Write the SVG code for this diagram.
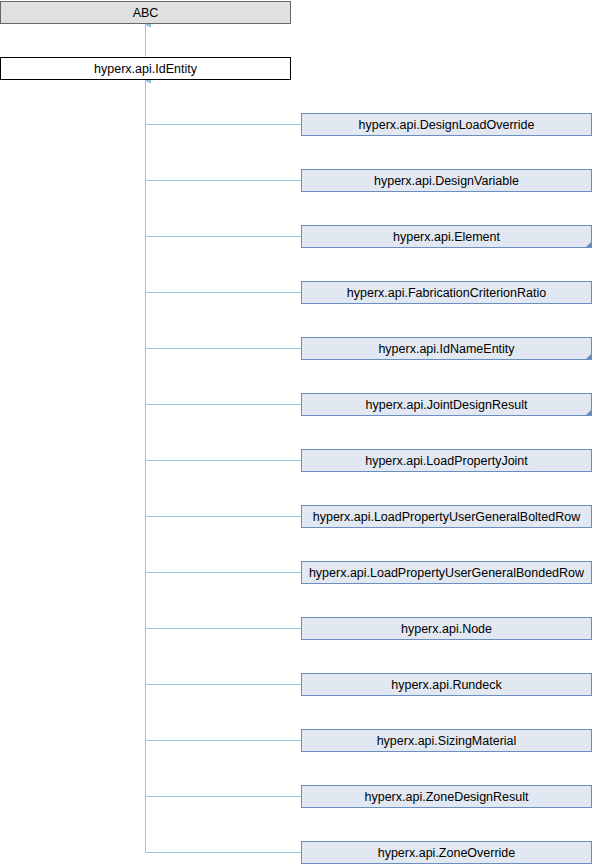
<svg xmlns="http://www.w3.org/2000/svg" width="592" height="864" viewBox="0 0 592 864">
<defs>
<style>
text{font-family:"Liberation Sans",Arial,sans-serif;font-size:12.5px;fill:#000;text-anchor:middle;}
.c{fill:#E2E8F2;stroke:#6C8EBF;stroke-width:1;}
.e{stroke:#8FC6E4;stroke-width:1;fill:none;}
.t{fill:#6C8EBF;}
</style>
<marker id="ah" markerWidth="6" markerHeight="6" refX="3" refY="0.5" orient="auto" markerUnits="userSpaceOnUse" viewBox="0 0 6 6">
<path d="M0.5,5.5 L3,0.5 L5.5,5.5 Z" fill="#8FC6E4" stroke="#8FC6E4" stroke-width="1"/>
</marker>
</defs>
<g id="edges">
<path class="e" d="M145.5,56.5 V24.5" marker-end="url(#ah)"/>
<path class="e" d="M145.5,852.5 V80.5" marker-end="url(#ah)"/>
<path class="e" d="M145.5,124.5 H301"/>
<path class="e" d="M145.5,180.5 H301"/>
<path class="e" d="M145.5,236.5 H301"/>
<path class="e" d="M145.5,292.5 H301"/>
<path class="e" d="M145.5,348.5 H301"/>
<path class="e" d="M145.5,404.5 H301"/>
<path class="e" d="M145.5,460.5 H301"/>
<path class="e" d="M145.5,516.5 H301"/>
<path class="e" d="M145.5,572.5 H301"/>
<path class="e" d="M145.5,628.5 H301"/>
<path class="e" d="M145.5,684.5 H301"/>
<path class="e" d="M145.5,740.5 H301"/>
<path class="e" d="M145.5,796.5 H301"/>
<path class="e" d="M145.5,852.5 H301"/>
</g>
<g id="ABC"><rect x="0.5" y="1.5" width="290" height="22" fill="#E0E0E0" stroke="#666"/><text x="145.5" y="16.5">ABC</text></g>
<g id="IdEntity"><rect x="0.5" y="57.5" width="290" height="22" fill="#fff" stroke="#000"/><text x="145.5" y="72.5">hyperx.api.IdEntity</text></g>
<g id="DesignLoadOverride"><rect class="c" x="301.5" y="113.5" width="290" height="22"/><text x="446.5" y="128.5">hyperx.api.DesignLoadOverride</text></g>
<g id="DesignVariable"><rect class="c" x="301.5" y="169.5" width="290" height="22"/><text x="446.5" y="184.5">hyperx.api.DesignVariable</text></g>
<g id="Element"><rect class="c" x="301.5" y="225.5" width="290" height="22"/><path class="t" d="M592,241 V248 H585 Z"/><text x="446.5" y="240.5">hyperx.api.Element</text></g>
<g id="FabricationCriterionRatio"><rect class="c" x="301.5" y="281.5" width="290" height="22"/><text x="446.5" y="296.5">hyperx.api.FabricationCriterionRatio</text></g>
<g id="IdNameEntity"><rect class="c" x="301.5" y="337.5" width="290" height="22"/><path class="t" d="M592,353 V360 H585 Z"/><text x="446.5" y="352.5">hyperx.api.IdNameEntity</text></g>
<g id="JointDesignResult"><rect class="c" x="301.5" y="393.5" width="290" height="22"/><path class="t" d="M592,409 V416 H585 Z"/><text x="446.5" y="408.5">hyperx.api.JointDesignResult</text></g>
<g id="LoadPropertyJoint"><rect class="c" x="301.5" y="449.5" width="290" height="22"/><text x="446.5" y="464.5">hyperx.api.LoadPropertyJoint</text></g>
<g id="LoadPropertyUserGeneralBoltedRow"><rect class="c" x="301.5" y="505.5" width="290" height="22"/><text x="446.5" y="520.5">hyperx.api.LoadPropertyUserGeneralBoltedRow</text></g>
<g id="LoadPropertyUserGeneralBondedRow"><rect class="c" x="301.5" y="561.5" width="290" height="22"/><text x="446.5" y="576.5">hyperx.api.LoadPropertyUserGeneralBondedRow</text></g>
<g id="Node"><rect class="c" x="301.5" y="617.5" width="290" height="22"/><text x="446.5" y="632.5">hyperx.api.Node</text></g>
<g id="Rundeck"><rect class="c" x="301.5" y="673.5" width="290" height="22"/><text x="446.5" y="688.5">hyperx.api.Rundeck</text></g>
<g id="SizingMaterial"><rect class="c" x="301.5" y="729.5" width="290" height="22"/><text x="446.5" y="744.5">hyperx.api.SizingMaterial</text></g>
<g id="ZoneDesignResult"><rect class="c" x="301.5" y="785.5" width="290" height="22"/><text x="446.5" y="800.5">hyperx.api.ZoneDesignResult</text></g>
<g id="ZoneOverride"><rect class="c" x="301.5" y="841.5" width="290" height="22"/><text x="446.5" y="856.5">hyperx.api.ZoneOverride</text></g>
</svg>
